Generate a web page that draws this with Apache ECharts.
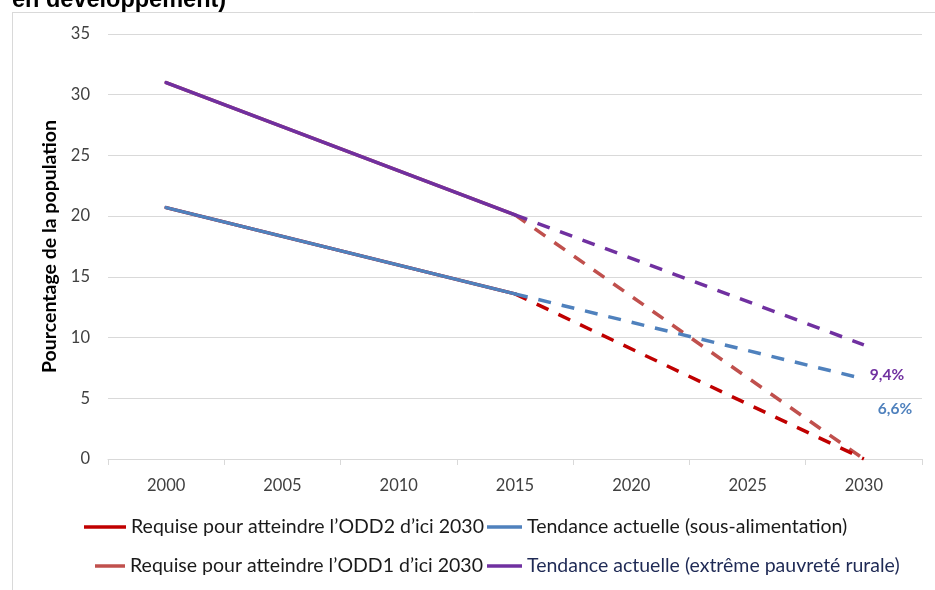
<!DOCTYPE html>
<html>
<head>
<meta charset="utf-8">
<script src="https://cdn.jsdelivr.net/npm/echarts@6/dist/echarts.min.js"></script>
<style>
html,body{margin:0;padding:0;background:#fff;}
#chart{width:935px;height:590px;}
</style>
</head>
<body>
<div id="chart"></div>
<script>
// ---- data ----
const categories = ['2000', '2005', '2010', '2015', '2020', '2025', '2030'];
const yTicks = [0, 5, 10, 15, 20, 25, 30, 35];
const nameODD2 = 'Requise pour atteindre l’ODD2 d’ici 2030';
const nameSousAlim = 'Tendance actuelle (sous-alimentation)';
const nameODD1 = 'Requise pour atteindre l’ODD1 d’ici 2030';
const namePauv = 'Tendance actuelle (extrême pauvreté rurale)';
// observed (solid) part 2000-2015
const odd2Solid     = [20.7, null, null, 13.6, null, null, null];
const sousAlimSolid = [20.7, null, null, 13.6, null, null, null];
const odd1Solid     = [31.0, null, null, 20.1, null, null, null];
const pauvSolid     = [31.0, null, null, 20.1, null, null, null];
// projected (dashed) part 2015-2030
const odd2Dash      = [null, null, null, 13.6, null, null, 0];
const sousAlimDash  = [null, null, null, 13.6, null, null, 6.6];
const odd1Dash      = [null, null, null, 20.1, null, null, 0];
const pauvDash      = [null, null, null, 20.1, null, null, 9.4];

const colODD2 = '#C00000', colSous = '#4F81BD', colODD1 = '#C0504D', colPauv = '#7030A0';
const FONT = 'Lato, "Noto Sans", sans-serif';

function solid(name, data, color, z) {
  return { name, type: 'line', data, connectNulls: true, symbol: 'none', z,
    itemStyle: { color }, lineStyle: { color, width: 3.5, cap: 'round' } };
}
function dashed(name, data, color, z, endLbl) {
  const s = { name, type: 'line', data, connectNulls: true, symbol: 'none', z,
    itemStyle: { color }, lineStyle: { color, width: 3.5, type: [13, 11] } };
  if (endLbl) {
    s.endLabel = { show: true, color, fontFamily: FONT, fontWeight: 'bold', fontSize: 15.5,
      offset: endLbl, formatter: p => String(p.value).replace('.', ',') + '%' };
  }
  return s;
}
function legendItem(name, color, left, top, w, textColor) {
  return { data: [{ name, itemStyle: { color } }], left, top, icon: 'rect', itemWidth: w, itemHeight: 3.5,
    padding: 0, selectedMode: false,
    textStyle: { fontFamily: FONT, fontSize: 19.5, color: textColor || '#1a1a1a', lineHeight: 24 } };
}

const chart = echarts.init(document.getElementById('chart'));
chart.setOption({
  backgroundColor: '#fff',
  animation: false,
  title: { text: 'en développement)', left: 12, top: -11, padding: 0,
    textStyle: { fontFamily: '"Liberation Sans", Arial, sans-serif', fontWeight: 'bold', fontSize: 23.5, color: '#000' } },
  grid: { left: 108, right: 13, top: 34, bottom: 131, containLabel: false },
  xAxis: {
    type: 'category', data: categories, boundaryGap: true,
    axisLine: { lineStyle: { color: '#d9d9d9', width: 1 } },
    axisTick: { show: true, length: 6, lineStyle: { color: '#d9d9d9' } },
    axisLabel: { color: '#404040', fontFamily: FONT, fontSize: 16.5, margin: 18 },
    splitLine: { show: false }
  },
  yAxis: {
    type: 'value', min: yTicks[0], max: yTicks[yTicks.length - 1], interval: yTicks[1] - yTicks[0],
    name: 'Pourcentage de la population', nameLocation: 'middle', nameGap: 48,
    nameTextStyle: { fontFamily: FONT, fontWeight: 'bold', fontSize: 19.5, color: '#000' },
    axisLine: { show: false }, axisTick: { show: false },
    axisLabel: { color: '#404040', fontFamily: FONT, fontSize: 16.5, margin: 18 },
    splitLine: { lineStyle: { color: '#d9d9d9', width: 1 } }
  },
  legend: [
    legendItem(nameODD2, colODD2, 84, 515, 42),
    legendItem(nameSousAlim, colSous, 487, 515, 35),
    legendItem(nameODD1, colODD1, 95, 554, 30),
    legendItem(namePauv, colPauv, 487, 554, 35, '#1f2a55')
  ],
  series: [
    solid(nameODD1, odd1Solid, colODD1, 2),
    solid(nameODD2, odd2Solid, colODD2, 2),
    solid(namePauv, pauvSolid, colPauv, 3),
    solid(nameSousAlim, sousAlimSolid, colSous, 3),
    dashed(nameODD1, odd1Dash, colODD1, 2),
    dashed(nameODD2, odd2Dash, colODD2, 2),
    dashed(namePauv, pauvDash, colPauv, 3, [-2, 30]),
    dashed(nameSousAlim, sousAlimDash, colSous, 3, [6, 30])
  ],
  graphic: [
    { type: 'line', shape: { x1: 12.5, y1: 12, x2: 12.5, y2: 590 }, style: { stroke: '#d9d9d9', lineWidth: 1 }, silent: true },
    { type: 'line', shape: { x1: 12, y1: 12.5, x2: 935, y2: 12.5 }, style: { stroke: '#d9d9d9', lineWidth: 1 }, silent: true }
  ]
});
</script>
</body>
</html>
